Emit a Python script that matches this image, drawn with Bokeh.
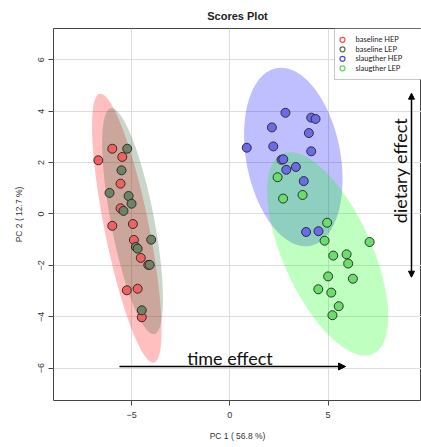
import numpy as np
from bokeh.plotting import figure
from bokeh.models import FixedTicker, Label, Arrow, NormalHead, BoxAnnotation
from bokeh.embed import file_html
from bokeh.resources import INLINE

# ---------------- data ----------------
groups = ["baseline HEP", "baseline LEP", "slaugther HEP", "slaugther LEP"]

base_hep_x = [-5.98, -5.47, -6.69, -5.56, -5.56, -5.98, -4.93, -4.88, -4.53, -4.15, -5.24, -4.69, -4.48]
base_hep_y = [2.54, 2.22, 2.09, 1.18, 0.22, -0.46, -0.39, -1.01, -1.71, -1.98, -2.97, -2.91, -4.02]

base_lep_x = [-5.22, -5.51, -6.12, -5.15, -5.00, -5.41, -4.00, -4.78, -4.69, -4.08, -4.48]
base_lep_y = [2.54, 1.70, 0.82, 0.70, 0.40, 0.12, -1.00, -1.28, -1.35, -1.98, -3.75]

slau_hep_x = [2.83, 4.14, 4.36, 2.14, 4.02, 0.86, 2.21, 4.14, 2.63, 2.72, 2.87, 3.36, 3.76, 3.88, 4.51]
slau_hep_y = [3.94, 3.75, 3.70, 3.37, 3.15, 2.58, 2.63, 2.44, 2.11, 2.13, 1.72, 1.83, 1.28, -0.70, -0.67]

slau_lep_x = [2.43, 2.71, 3.70, 4.95, 4.82, 7.11, 5.26, 5.94, 6.02, 5.00, 6.26, 4.50, 5.16, 5.54, 5.22]
slau_lep_y = [1.43, 0.60, 0.74, -0.34, -1.04, -1.09, -1.62, -1.57, -1.93, -2.43, -2.52, -2.93, -3.06, -3.59, -3.94]

x_ticks = [-5, 0, 5]
y_ticks = [-6, -4, -2, 0, 2, 4, 6]

x_label = "PC 1 ( 56.8 %)"
y_label = "PC 2 ( 12.7 %)"
title_text = "Scores Plot"

# colours
ell_colors = ["#FF0000", "#2E5A2E", "#0000FF", "#00FF00"]
pt_colors = ["#EE6262", "#6E8266", "#6A6AEA", "#6ADE6A"]
key_colors = ["#E85050", "#55704F", "#4848DC", "#5CD65C"]

# ---------------- figure ----------------
W, H = 421, 447
FL, FR, FT, FB = 53, 421, 28, 400
X0, X1 = -8.97, 9.75
Y0, Y1 = -7.26, 7.22

p = figure(width=W, height=H, x_range=(X0, X1), y_range=(Y0, Y1),
           output_backend="svg", toolbar_location=None,
           min_border_left=FL, min_border_right=W - FR,
           min_border_top=FT, min_border_bottom=H - FB)


def fx(px):
    return X0 + (px - FL) / (FR - FL) * (X1 - X0)


def fy(py):
    return Y1 - (py - FT) / (FB - FT) * (Y1 - Y0)


p.title.text = title_text
p.title.align = "center"
p.title.text_font = "Liberation Sans"
p.title.text_font_size = "11px"
p.title.text_font_style = "bold"
p.title.text_color = "#222222"
p.title.standoff = 14

p.outline_line_color = "#444444"
p.outline_line_width = 1
p.background_fill_color = "white"
p.border_fill_color = "white"

p.xaxis.ticker = FixedTicker(ticks=x_ticks)
p.yaxis.ticker = FixedTicker(ticks=y_ticks)
for ax in (p.xaxis, p.yaxis):
    ax.axis_line_color = None
    ax.major_tick_line_color = "#444444"
    ax.major_tick_out = 5
    ax.major_tick_in = 0
    ax.minor_tick_line_color = None
    ax.major_label_text_font = "Liberation Sans"
    ax.major_label_text_font_size = "9px"
    ax.major_label_text_color = "#333333"
    ax.axis_label_text_font = "Liberation Sans"
    ax.axis_label_text_font_size = "8.5px"
    ax.axis_label_text_font_style = "normal"
    ax.axis_label_text_color = "#333333"
p.xaxis.axis_label = x_label
p.yaxis.axis_label = y_label
p.xaxis.major_label_standoff = 6
p.yaxis.major_label_standoff = 4
p.yaxis.major_label_orientation = "vertical"
p.xaxis.axis_label_standoff = 10
p.yaxis.axis_label_standoff = 12

p.grid.grid_line_color = "#DDDDDD"
p.grid.grid_line_width = 1

# ---------------- ellipses (95% confidence from data) ----------------
T = np.sqrt(5.991464547)  # sqrt(qchisq(0.95, 2))


def conf_ellipse(xs, ys, n=200):
    xs = np.asarray(xs)
    ys = np.asarray(ys)
    c = np.cov(xs, ys)
    sx, sy = np.sqrt(c[0, 0]), np.sqrt(c[1, 1])
    r = c[0, 1] / (sx * sy)
    d = np.arccos(r)
    a = np.linspace(0, 2 * np.pi, n)
    ex = T * sx * np.cos(a + d / 2) + xs.mean()
    ey = T * sy * np.cos(a - d / 2) + ys.mean()
    return ex, ey


all_x = [base_hep_x, base_lep_x, slau_hep_x, slau_lep_x]
all_y = [base_hep_y, base_lep_y, slau_hep_y, slau_lep_y]

for xs, ys, col in zip(all_x, all_y, ell_colors):
    ex, ey = conf_ellipse(xs, ys)
    p.patch(ex, ey, fill_color=col, fill_alpha=0.25, line_color=None)

for xs, ys, col in zip(all_x, all_y, pt_colors):
    p.scatter(xs, ys, size=9, fill_color=col, line_color="#222222", line_width=0.9)

# ---------------- legend (custom) ----------------
p.add_layout(BoxAnnotation(left=fx(334), right=fx(430), top=fy(28), bottom=fy(79),
                           fill_color="white", fill_alpha=1.0,
                           line_color="#444444", line_width=1, level="annotation"))
row_py = [39.3, 48.8, 58.3, 67.8]
for g, col, py in zip(groups, key_colors, row_py):
    p.scatter([fx(342)], [fy(py)], size=5, fill_color=None, line_color=col,
              line_width=1.2, level="overlay")
    p.add_layout(Label(x=fx(355), y=fy(py), text=g, text_font="Lato",
                       text_font_size="7.5px", text_color="#222222",
                       text_baseline="middle", text_align="left", level="overlay"))

# ---------------- annotations ----------------
p.add_layout(Arrow(x_start=fx(119), y_start=fy(366), x_end=fx(345), y_end=fy(366),
                   line_color="black", line_width=1.5,
                   end=NormalHead(size=7, fill_color="black", line_color="black")))
p.add_layout(Label(x=fx(229.5), y=fy(357), text="time effect", text_font="Lato",
                   text_font_size="18px", text_color="#111111",
                   text_align="center", text_baseline="alphabetic"))

p.add_layout(Arrow(x_start=fx(411), y_start=fy(276.7), x_end=fx(411), y_end=fy(92.7),
                   line_color="black", line_width=1.5,
                   start=NormalHead(size=6, fill_color="black", line_color="black"),
                   end=NormalHead(size=6, fill_color="black", line_color="black")))
p.add_layout(Label(x=fx(399), y=fy(170), text="dietary effect", text_font="Lato",
                   text_font_size="18px", text_color="#111111", angle=np.pi / 2,
                   text_align="center", text_baseline="alphabetic"))

open("out.html", "w").write(file_html(p, INLINE))
